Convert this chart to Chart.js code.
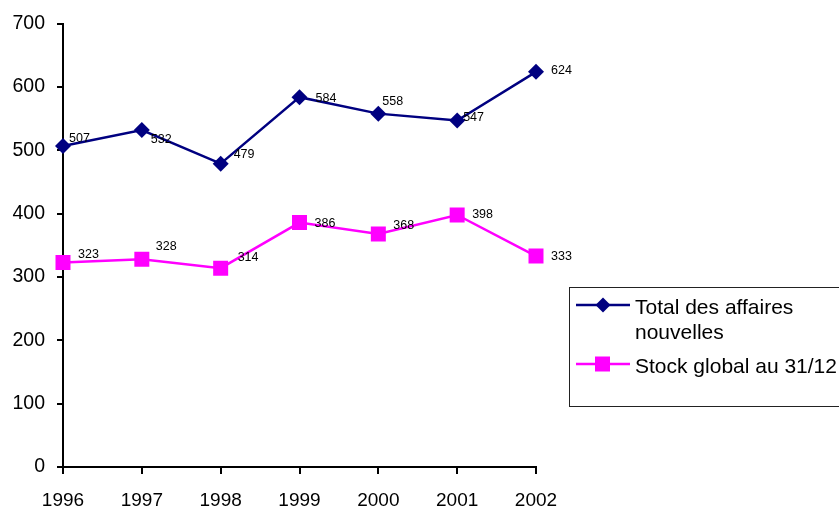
<!DOCTYPE html>
<html>
<head>
<meta charset="utf-8">
<script src="https://cdn.jsdelivr.net/npm/chart.js@4.4.1/dist/chart.umd.min.js"></script>
<style>
  html, body { margin: 0; padding: 0; background: #fff; }
  #wrap { width: 839px; height: 510px; position: relative; }
</style>
</head>
<body>
<div id="wrap"><canvas id="c"></canvas></div>
<script>
const years = ["1996", "1997", "1998", "1999", "2000", "2001", "2002"];
const totalAffaires = [507, 532, 479, 584, 558, 547, 624];
const stockGlobal = [323, 328, 314, 386, 368, 398, 333];
const seriesNames = [["Total des affaires", "nouvelles"], ["Stock global au 31/12"]];

// label offsets from the point (left edge x, middle y), as placed in the original
const labelOffsets = [
  [[6, -7], [9, 9], [13, -9], [16, 1], [4, -12], [6, -3], [15, -1]],
  [[15, -8], [14, -13], [17, -11], [15, 1], [15, -8], [15, 0], [15, 0]],
];

const FONT = "'Liberation Sans', Arial, sans-serif";

const labelPlugin = {
  id: "pointLabels",
  afterDatasetsDraw(chart) {
    const ctx = chart.ctx;
    ctx.save();
    ctx.font = "12.5px " + FONT;
    ctx.fillStyle = "#000";
    ctx.textAlign = "left";
    ctx.textBaseline = "middle";
    chart.data.datasets.forEach((ds, i) => {
      chart.getDatasetMeta(i).data.forEach((pt, j) => {
        const off = labelOffsets[i][j];
        ctx.fillText(String(ds.data[j]), pt.x + off[0], pt.y + off[1]);
      });
    });
    ctx.restore();
  },
};

const legendPlugin = {
  id: "boxLegend",
  afterDraw(chart) {
    const ctx = chart.ctx;
    ctx.save();
    ctx.strokeStyle = "#222";
    ctx.lineWidth = 1;
    ctx.strokeRect(569.5, 287.5, 300, 119);
    ctx.font = "21px " + FONT;
    ctx.fillStyle = "#000";
    ctx.textBaseline = "middle";
    const rows = [305, 364];
    chart.data.datasets.forEach((ds, i) => {
      const y = rows[i];
      ctx.strokeStyle = ds.borderColor;
      ctx.lineWidth = 2.5;
      ctx.beginPath();
      ctx.moveTo(576, y);
      ctx.lineTo(630, y);
      ctx.stroke();
      ctx.fillStyle = ds.pointBackgroundColor;
      if (ds.pointStyle === "rectRot") {
        ctx.beginPath();
        ctx.moveTo(603, y - 7.5);
        ctx.lineTo(610.5, y);
        ctx.lineTo(603, y + 7.5);
        ctx.lineTo(595.5, y);
        ctx.closePath();
        ctx.fill();
      } else {
        ctx.fillRect(595, y - 7.5, 15, 15);
      }
      ctx.fillStyle = "#000";
      seriesNames[i].forEach((t, k) => ctx.fillText(t, 635, y + 3 + k * 25));
    });
    ctx.restore();
  },
};

new Chart(document.getElementById("c"), {
  type: "line",
  data: {
    labels: years,
    datasets: [
      {
        label: seriesNames[0].join(" "),
        data: totalAffaires,
        borderColor: "#000080",
        backgroundColor: "#000080",
        pointBackgroundColor: "#000080",
        pointBorderColor: "#000080",
        borderWidth: 2.5,
        pointStyle: "rectRot",
        pointRadius: 8,
        pointBorderWidth: 0,
        tension: 0,
      },
      {
        label: seriesNames[1][0],
        data: stockGlobal,
        borderColor: "#FF00FF",
        backgroundColor: "#FF00FF",
        pointBackgroundColor: "#FF00FF",
        pointBorderColor: "#FF00FF",
        borderWidth: 2.5,
        pointStyle: "rect",
        pointRadius: 10.6,
        pointBorderWidth: 0,
        tension: 0,
      },
    ],
  },
  options: {
    responsive: true,
    maintainAspectRatio: false,
    animation: false,
    layout: { padding: { left: 0, right: 303, top: 21, bottom: 0 } },
    plugins: {
      legend: { display: false },
      tooltip: { enabled: false },
    },
    scales: {
      x: {
        offset: false,
        grid: { drawOnChartArea: false, drawTicks: true, tickLength: 7, color: "#000", lineWidth: 2 },
        border: { color: "#000", width: 2 },
        ticks: { color: "#000", font: { family: FONT, size: 19 }, padding: 15, maxRotation: 0 },
        afterFit(s) { s.height = 43; },
      },
      y: {
        min: 0,
        max: 700,
        ticks: { stepSize: 100, color: "#000", font: { family: FONT, size: 19.5 }, padding: 12 },
        grid: { drawOnChartArea: false, drawTicks: true, tickLength: 6, color: "#000", lineWidth: 2 },
        border: { color: "#000", width: 2 },
        afterFit(s) { s.width = 63; },
      },
    },
  },
  plugins: [labelPlugin, legendPlugin],
});
</script>
</body>
</html>
